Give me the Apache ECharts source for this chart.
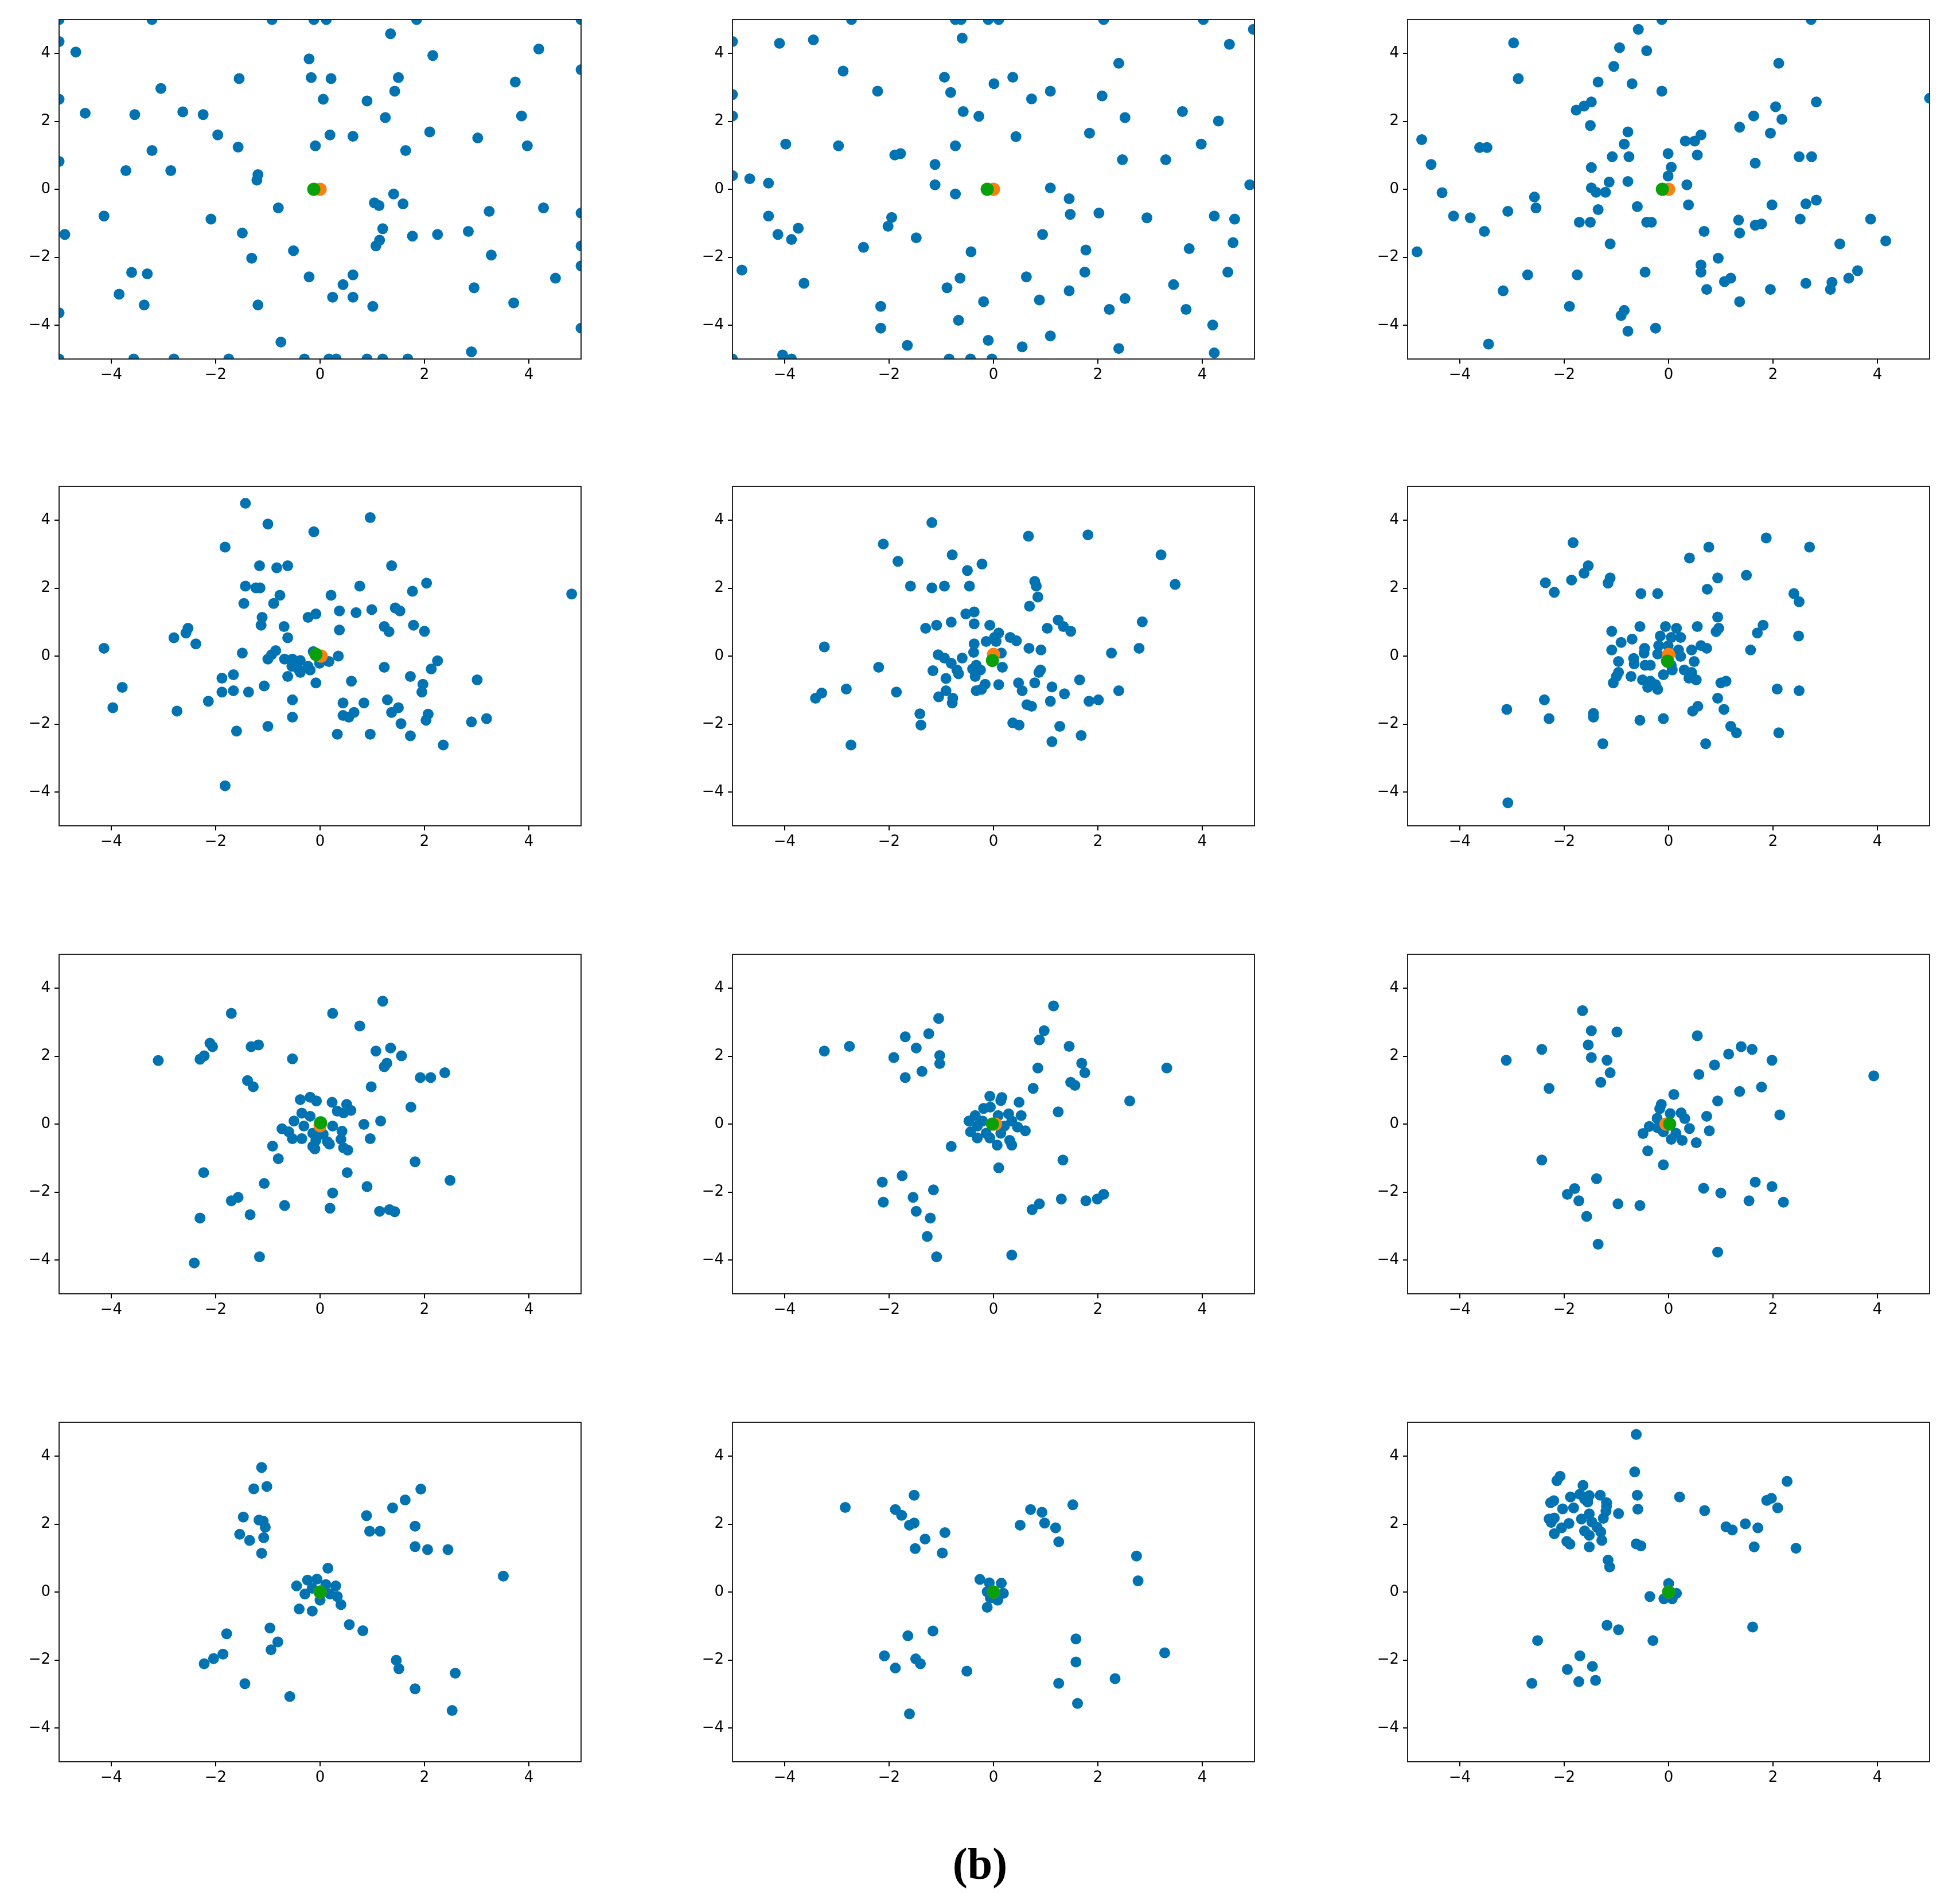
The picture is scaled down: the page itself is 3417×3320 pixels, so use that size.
<!DOCTYPE html>
<html>
<head>
<meta charset="utf-8">
<script src="https://cdn.jsdelivr.net/npm/echarts@6/dist/echarts.min.js"></script>
<style>
html, body { margin: 0; padding: 0; background: #fff; }
#main { width: 3417px; height: 3320px; }
</style>
</head>
<body>
<div id="main"></div>
<script>
// tick labels shared by every panel
var tickVals = [-4, -2, 0, 2, 4];

// blue particles, one array per panel (row by row)
var blue_r1c1 = [[-5,5],[-3.22,5],[-0.92,5],[-0.12,5],[0.12,5],[1.85,5],[5,5],
  [1.35,4.58],[-5,4.35],[-4.68,4.04],[4.19,4.13],[-0.21,3.84],[2.16,3.94],[5,3.52],
  [-1.55,3.26],[-0.17,3.29],[0.21,3.26],[1.5,3.29],[3.74,3.16],[-3.05,2.97],[1.43,2.89],
  [-5,2.65],[0.06,2.65],[0.9,2.6],[-4.5,2.24],[-3.55,2.2],[-2.63,2.28],[-2.24,2.2],[1.25,2.11],[3.86,2.16],
  [-1.96,1.6],[0.19,1.6],[0.63,1.56],[2.1,1.69],[3.02,1.51],[-1.57,1.24],[-0.09,1.28],[1.64,1.14],[-3.22,1.14],[3.97,1.28],
  [-5,0.82],[-3.72,0.55],[-2.86,0.55],[-1.19,0.43],[-1.21,0.27],
  [1.41,-0.14],[-0.8,-0.55],[1.04,-0.4],[1.13,-0.48],[1.59,-0.43],[3.24,-0.65],[4.28,-0.55],[5,-0.7],
  [-4.14,-0.79],[-2.09,-0.88],[-4.89,-1.33],[-1.49,-1.29],[1.2,-1.16],[1.77,-1.38],[2.25,-1.33],[2.84,-1.24],
  [1.14,-1.5],[1.07,-1.67],[-0.51,-1.81],[5,-1.67],[-1.31,-2.03],[3.28,-1.94],[5,-2.26],
  [-3.61,-2.45],[-3.31,-2.49],[-0.21,-2.58],[0.63,-2.52],[4.51,-2.62],[0.44,-2.81],[-3.85,-3.09],[2.95,-2.9],
  [0.24,-3.18],[0.63,-3.18],[-3.37,-3.41],[-1.19,-3.41],[1.01,-3.45],[3.71,-3.35],[-5,-3.64],[5,-4.09],
  [-0.75,-4.5],[2.9,-4.79],
  [-5,-5],[-3.57,-5],[-2.8,-5],[-1.75,-5],[-0.3,-5],[0.17,-5],[0.31,-5],[0.9,-5],[1.2,-5],[1.68,-5]];

var blue_r1c2 = [[-2.72,5],[-0.73,5],[-0.62,5],[-0.1,5],[0.1,5],[2.11,5],[4.02,5],[4.98,4.71],
  [-5,4.35],[-4.1,4.3],[-3.45,4.4],[-0.6,4.45],[4.52,4.27],[2.4,3.71],[-2.88,3.48],[-0.94,3.3],[0.37,3.3],[0.01,3.11],
  [-5,2.79],[-2.22,2.89],[-0.82,2.85],[1.09,2.89],[0.73,2.66],[2.08,2.75],[-5,2.16],[-0.58,2.29],[-0.28,2.15],[2.52,2.11],[3.62,2.29],[4.31,2.01],
  [0.43,1.55],[1.84,1.65],[-3.98,1.33],[-2.97,1.28],[-0.73,1.28],[3.98,1.33],[-1.89,1.01],[-1.78,1.05],[2.47,0.87],[3.3,0.87],[-1.12,0.73],
  [-5,0.4],[-4.67,0.31],[-4.31,0.18],[-1.12,0.13],[4.91,0.13],[1.09,0.04],[-0.73,-0.14],[1.45,-0.28],[1.47,-0.74],[2.02,-0.7],
  [-4.31,-0.79],[-1.95,-0.83],[2.94,-0.84],[4.23,-0.79],[4.62,-0.88],[-2.02,-1.09],[-3.74,-1.15],[-4.13,-1.33],[0.94,-1.33],[-3.87,-1.48],[-1.48,-1.43],[4.59,-1.57],
  [-2.49,-1.71],[1.77,-1.79],[3.75,-1.75],[-0.43,-1.84],[-4.82,-2.38],[1.75,-2.44],[4.49,-2.44],[-0.64,-2.62],[0.63,-2.58],[-3.63,-2.77],[3.45,-2.81],
  [-0.89,-2.9],[1.45,-2.99],[2.52,-3.22],[0.88,-3.26],[-0.19,-3.31],[-2.16,-3.45],[2.22,-3.54],[3.69,-3.54],[-0.67,-3.86],[4.2,-4],[-2.16,-4.09],
  [1.09,-4.32],[-0.1,-4.45],[-1.65,-4.6],[0.55,-4.64],[2.4,-4.69],[4.23,-4.82],[-4.04,-4.88],
  [-5,-5],[-3.87,-5],[-0.85,-5],[-0.44,-5],[-0.03,-5]];

var blue_r1c3 = [[-0.13,5],[2.73,5],[-0.58,4.71],[-2.97,4.31],[-0.94,4.17],[-0.42,4.08],[-1.05,3.62],[2.11,3.71],[-2.88,3.26],[-1.35,3.16],[-0.7,3.11],[-0.13,2.89],[5,2.68],
  [-1.48,2.57],[-1.62,2.45],[-1.77,2.33],[2.83,2.57],[2.05,2.43],[2.17,2.06],[1.63,2.16],[-1.5,1.88],[1.36,1.83],[-0.78,1.69],[1.95,1.65],[0.62,1.6],[0.32,1.42],[0.5,1.42],
  [-4.73,1.46],[-3.62,1.23],[-3.48,1.23],[-0.85,1.33],[-0.01,1.05],[0.55,1.01],[-1.08,0.96],[-0.76,0.96],[2.5,0.96],[2.74,0.96],[-4.55,0.73],[1.66,0.77],[-1.48,0.64],[0.05,0.65],[-0.01,0.39],
  [-1.14,0.21],[-0.78,0.23],[-1.48,0.04],[0.35,0.13],[-1.39,-0.09],[-1.21,-0.09],[-4.34,-0.1],[-2.57,-0.23],[-2.54,-0.55],[-0.6,-0.51],[0.38,-0.46],[1.98,-0.46],[2.63,-0.43],[2.83,-0.32],
  [-1.35,-0.6],[-3.08,-0.65],[-4.12,-0.79],[-3.8,-0.84],[-1.71,-0.97],[-1.5,-0.97],[-0.42,-0.97],[-0.33,-0.97],[1.34,-0.91],[2.52,-0.88],[3.87,-0.88],[1.66,-1.06],[1.78,-1.02],[0.68,-1.24],[-3.53,-1.24],[1.36,-1.29],
  [4.16,-1.52],[-1.12,-1.61],[3.28,-1.61],[-4.82,-1.84],[0.95,-2.03],[0.62,-2.23],[0.62,-2.44],[3.62,-2.4],[-2.7,-2.52],[-1.75,-2.52],[-0.45,-2.44],[1.07,-2.72],[1.19,-2.62],[2.63,-2.77],[3.45,-2.62],
  [3.13,-2.74],[3.1,-2.95],[0.73,-2.95],[1.95,-2.95],[-3.17,-2.99],[1.36,-3.31],[-1.9,-3.45],[-0.85,-3.57],[-0.91,-3.72],[-0.25,-4.09],[-0.78,-4.18],[-3.45,-4.56]];

var blue_r2c1 = [[-1.43,4.5],[0.96,4.08],[-1,3.89],[-0.12,3.66],[-1.82,3.21],[-1.16,2.66],[-0.83,2.6],[-0.62,2.66],[1.37,2.66],
  [-1.43,2.06],[-1.23,2.01],[-1.15,2.01],[0.76,2.06],[2.04,2.15],[1.77,1.91],[-0.77,1.79],[0.21,1.79],[4.82,1.83],[-1.46,1.55],[-0.89,1.55],
  [0.37,1.33],[0.69,1.28],[0.99,1.37],[1.44,1.42],[1.53,1.33],[-0.23,1.14],[-0.08,1.24],[-1.11,1.14],[-1.13,0.91],[-0.69,0.87],[1.23,0.87],[1.32,0.72],[1.79,0.91],[2,0.73],[0.37,0.77],
  [-2.53,0.82],[-2.57,0.68],[-2.8,0.54],[-0.62,0.54],[-2.38,0.36],[-4.14,0.23],[-1.49,0.09],[-0.85,0.16],[-0.93,0.04],[-1,-0.09],[-0.13,0.13],[0.35,0],
  [-0.68,-0.09],[-0.53,-0.09],[-0.38,-0.13],[-0.54,-0.3],[-0.42,-0.38],[-0.23,-0.3],[-0.19,-0.41],[-0.38,-0.48],[-0.01,-0.21],[0.17,-0.16],[1.23,-0.33],[2.25,-0.14],[2.13,-0.38],
  [-1.66,-0.55],[-1.88,-0.65],[-0.62,-0.6],[1.73,-0.6],[3.01,-0.7],[0.6,-0.74],[-0.08,-0.79],[1.97,-0.83],[-3.79,-0.92],[-1.07,-0.88],[-1.88,-1.06],[-1.66,-1.02],[-1.37,-1.06],[1.95,-1.06],
  [-2.14,-1.33],[-0.53,-1.29],[0.44,-1.38],[0.84,-1.38],[1.29,-1.29],[-3.97,-1.52],[-2.74,-1.62],[1.5,-1.52],[1.37,-1.66],[0.65,-1.66],[0.44,-1.75],[0.55,-1.8],[-0.53,-1.8],
  [2.07,-1.71],[2.03,-1.89],[1.55,-1.99],[2.9,-1.94],[3.19,-1.84],[-1,-2.07],[-1.6,-2.21],[0.33,-2.3],[0.96,-2.3],[1.73,-2.35],[2.36,-2.62],[-1.82,-3.82]];

var blue_r2c2 = [[-1.18,3.93],[0.67,3.53],[1.81,3.57],[-2.11,3.3],[-0.79,2.98],[3.21,2.98],[-1.83,2.79],[-0.22,2.71],[-0.5,2.52],
  [0.79,2.2],[0.82,2.06],[-1.59,2.06],[-1.18,2.01],[-0.94,2.06],[-0.46,2.06],[3.48,2.11],[0.85,1.74],[0.69,1.47],[-0.53,1.24],[-0.37,1.3],
  [1.24,1.06],[2.85,1.01],[1.34,0.87],[1.48,0.73],[1.03,0.82],[-0.81,1],[-0.37,0.95],[-1.09,0.91],[-1.3,0.82],[-0.07,0.91],[0.1,0.68],[0.02,0.55],[0.32,0.55],[0.44,0.45],[0.05,0.43],[-0.14,0.43],[-0.37,0.36],
  [-3.24,0.27],[0.68,0.23],[0.91,0.18],[2.79,0.23],[2.26,0.09],[-0.38,0.11],[0.15,0.09],[-1.06,0.04],[-0.94,-0.06],[-0.6,-0.06],[-0.81,-0.21],[-0.33,-0.27],[0.17,-0.33],[-2.2,-0.33],
  [-0.7,-0.41],[-0.4,-0.38],[-0.25,-0.41],[-1.16,-0.43],[0.9,-0.41],[0.87,-0.48],[-0.67,-0.52],[-0.35,-0.6],[-0.91,-0.66],[1.65,-0.7],[0.48,-0.79],[0.79,-0.79],[-0.16,-0.83],[0.1,-0.84],
  [1.12,-0.91],[-0.23,-0.98],[-0.33,-1.02],[-2.82,-0.97],[-0.91,-1.02],[0.55,-1.02],[1.36,-1.11],[2.4,-1.02],[-3.29,-1.09],[-3.41,-1.24],[-1.86,-1.06],[-1.05,-1.2],[-0.78,-1.24],[-0.79,-1.38],
  [1.09,-1.33],[1.83,-1.33],[2.01,-1.29],[0.64,-1.43],[0.73,-1.48],[-1.41,-1.7],[-1.39,-2.03],[0.37,-1.97],[0.49,-2.03],[1.27,-2.07],[1.68,-2.34],[1.12,-2.52],[-2.73,-2.62]];

var blue_r2c3 = [[-1.83,3.34],[1.87,3.48],[0.77,3.21],[2.7,3.21],[0.4,2.89],[-1.54,2.66],[-1.62,2.44],[1.49,2.38],[-1.86,2.24],[-1.12,2.3],[-1.16,2.15],[-2.36,2.16],[0.94,2.3],
  [-2.19,1.88],[-0.53,1.84],[-0.21,1.84],[0.74,1.97],[2.4,1.84],[2.5,1.6],[0.94,1.15],[-0.55,0.87],[-0.06,0.87],[0.15,0.82],[0.55,0.87],[0.96,0.82],[0.91,0.72],[1.81,0.91],[1.7,0.68],
  [-1.09,0.73],[2.49,0.59],[-0.16,0.59],[0.05,0.55],[0.23,0.55],[-0.7,0.5],[-0.91,0.4],[-0.19,0.31],[-0.01,0.3],[-0.46,0.23],[-1.09,0.18],[0.19,0.18],[0.44,0.18],[0.62,0.31],[0.73,0.23],[1.57,0.18],
  [-0.47,0.09],[-0.21,0.06],[0.23,-0.01],[-0.67,-0.07],[-0.96,-0.16],[0.49,-0.16],[-0.66,-0.23],[-0.35,-0.27],[0.05,-0.27],[-0.45,-0.27],[0.3,-0.41],[0.07,-0.41],[0.44,-0.48],[-0.96,-0.48],
  [-1,-0.6],[-0.72,-0.6],[-0.1,-0.55],[0.39,-0.65],[0.53,-0.7],[-0.5,-0.7],[-0.35,-0.74],[-1.06,-0.79],[-0.25,-0.84],[1,-0.79],[1.1,-0.74],[-0.4,-0.92],[-0.21,-0.98],[2.08,-0.97],[2.5,-1.02],
  [-2.38,-1.29],[0.94,-1.24],[-3.1,-1.57],[1.06,-1.57],[0.56,-1.48],[0.46,-1.62],[-1.44,-1.69],[-1.44,-1.8],[-2.29,-1.84],[-0.55,-1.89],[-0.1,-1.84],[1.19,-2.07],[1.3,-2.26],[2.11,-2.26],
  [-1.26,-2.58],[0.71,-2.58],[-3.08,-4.32]];

var blue_r3c1 = [[1.2,3.62],[-1.7,3.26],[0.24,3.26],[0.76,2.89],[-2.11,2.38],[-2.06,2.28],[-1.32,2.28],[-1.18,2.33],[1.35,2.24],[1.07,2.15],[1.56,2.01],[-2.22,2.01],[-2.3,1.91],[-3.1,1.87],[-0.53,1.92],
  [1.28,1.79],[1.23,1.69],[2.39,1.51],[1.92,1.37],[2.12,1.37],[-1.39,1.28],[-1.28,1.1],[0.98,1.1],[1.74,0.5],[-0.38,0.72],[-0.19,0.79],[-0.07,0.68],[0.23,0.64],[0.51,0.58],[0.59,0.4],[0.33,0.38],[0.45,0.33],
  [-0.35,0.32],[-0.19,0.23],[1.16,0.09],[-0.5,0.09],[0.84,-0.01],[-0.31,-0.06],[0.24,-0.06],[-0.73,-0.14],[-0.6,-0.23],[0.42,-0.21],[-0.14,-0.27],[0.06,-0.3],[-0.53,-0.43],[-0.35,-0.43],[0.4,-0.45],[0.96,-0.43],
  [-0.08,-0.48],[0.14,-0.52],[-0.14,-0.66],[0.18,-0.59],[0.45,-0.7],[0.53,-0.77],[-0.91,-0.65],[-0.1,-0.73],[-0.8,-1.02],[1.82,-1.11],[-2.23,-1.43],[0.52,-1.43],[2.49,-1.66],[-1.07,-1.75],[0.9,-1.84],
  [0.24,-2.03],[-1.57,-2.16],[-1.7,-2.26],[-0.68,-2.4],[0.19,-2.48],[1.14,-2.57],[1.33,-2.52],[1.43,-2.58],[-1.34,-2.67],[-2.3,-2.77],[-1.16,-3.91],[-2.41,-4.09]];

var blue_r3c2 = [[1.15,3.48],[-1.05,3.11],[0.97,2.75],[-1.24,2.66],[-1.69,2.57],[0.88,2.48],[-2.76,2.29],[-3.24,2.15],[-1.48,2.24],[1.45,2.29],[-1.91,1.96],[-1.03,2.02],[-1.03,1.78],
  [1.69,1.79],[1.75,1.51],[0.85,1.65],[3.32,1.65],[-1.37,1.55],[-1.69,1.37],[1.48,1.23],[1.56,1.14],[0.76,1.05],[2.61,0.68],[-0.07,0.82],[0.16,0.78],[0.14,0.69],[0.49,0.64],[1.24,0.36],
  [-0.19,0.46],[-0.06,0.5],[0.29,0.3],[0.53,0.25],[-0.35,0.25],[0.09,0.25],[-0.47,0.09],[-0.21,0.09],[0.35,0.09],[-0.31,-0.06],[0.21,-0.06],[0.46,-0.09],[0.61,-0.2],[-0.44,-0.23],[-0.14,-0.27],[0.14,-0.27],
  [-0.31,-0.41],[-0.07,-0.41],[0.31,-0.48],[0.07,-0.62],[0.35,-0.62],[-0.81,-0.66],[1.33,-1.06],[0.1,-1.29],[-1.75,-1.52],[-2.13,-1.71],[-1.15,-1.94],[-1.54,-2.16],[2.11,-2.07],[1.99,-2.21],[1.3,-2.21],[1.77,-2.26],
  [-2.11,-2.3],[0.88,-2.35],[0.74,-2.52],[-1.48,-2.57],[-1.21,-2.77],[-1.27,-3.31],[-1.09,-3.91],[0.35,-3.86]];

var blue_r3c3 = [[-1.65,3.34],[-1.48,2.75],[-0.99,2.71],[0.55,2.6],[-1.54,2.33],[1.39,2.28],[1.6,2.2],[-2.43,2.2],[1.15,2.06],[-1.48,1.96],[-1.18,1.88],[-3.11,1.88],[1.98,1.88],[0.88,1.74],
  [-1.12,1.51],[0.58,1.46],[3.93,1.42],[-1.3,1.23],[-2.29,1.05],[1.78,1.09],[1.36,0.96],[0.1,0.87],[0.94,0.68],[-0.14,0.58],[-0.17,0.45],[0.24,0.33],[0.03,0.31],[2.13,0.27],[0.73,0.23],[-0.22,0.17],[0.31,0.16],
  [-0.37,-0.07],[-0.21,-0.11],[0.4,-0.13],[0.78,-0.2],[-0.49,-0.28],[-0.1,-0.23],[0.14,-0.27],[0.05,-0.45],[0.26,-0.48],[0.53,-0.55],[-0.4,-0.79],[-2.43,-1.06],[-0.1,-1.2],[-1.38,-1.61],[1.66,-1.71],
  [-1.8,-1.9],[-1.94,-2.07],[0.67,-1.89],[1.98,-1.84],[1,-2.03],[-1.72,-2.26],[1.54,-2.26],[2.2,-2.3],[-0.97,-2.35],[-0.55,-2.4],[-1.57,-2.72],[-1.35,-3.54],[0.94,-3.77]];

var blue_r4c1 = [[-1.12,3.67],[-1.02,3.11],[-1.27,3.04],[1.93,3.03],[1.63,2.71],[1.39,2.48],[0.89,2.25],[-1.47,2.21],[-1.17,2.12],[-1.09,2.09],[-1.05,1.91],[1.82,1.94],[-1.54,1.7],[0.95,1.79],[1.15,1.79],
  [-1.35,1.52],[-1.08,1.6],[1.82,1.34],[2.06,1.25],[2.45,1.25],[-1.12,1.14],[0.15,0.7],[3.51,0.47],[-0.24,0.35],[-0.06,0.38],[-0.45,0.18],[0.11,0.22],[0.3,0.18],[-0.15,0.11],[-0.29,-0.06],[0.19,-0.06],
  [0.33,-0.13],[0,-0.24],[0.4,-0.37],[-0.4,-0.5],[-0.15,-0.56],[0.56,-0.96],[0.82,-1.14],[-0.96,-1.06],[-1.79,-1.23],[-0.81,-1.47],[-0.94,-1.7],[-1.86,-1.83],[-2.04,-1.96],[-2.22,-2.11],
  [1.46,-2.01],[1.51,-2.26],[2.59,-2.39],[-1.44,-2.7],[1.82,-2.85],[-0.58,-3.08],[2.53,-3.49]];

var blue_r4c2 = [[-1.52,2.85],[-2.84,2.49],[-1.88,2.43],[-1.76,2.26],[-1.61,1.97],[-1.52,2.03],[-0.93,1.75],[-1.31,1.56],[-1.5,1.28],[-0.98,1.15],
  [1.52,2.57],[0.71,2.43],[0.93,2.35],[0.51,1.97],[0.98,2.03],[1.19,1.89],[1.25,1.48],[2.74,1.06],[2.77,0.33],
  [-0.26,0.37],[-0.08,0.27],[0.15,0.26],[-0.12,0.01],[0.19,-0.04],[0.08,-0.24],[-0.06,-0.18],[-0.12,-0.45],
  [-1.16,-1.15],[-1.64,-1.29],[1.58,-1.38],[3.28,-1.79],[-2.09,-1.88],[-1.49,-1.97],[-1.4,-2.11],[-1.88,-2.24],[1.58,-2.06],[-0.51,-2.33],[2.33,-2.55],[1.25,-2.69],[1.61,-3.28],[-1.61,-3.59]];

var blue_r4c3 = [[-0.62,4.64],[-0.65,3.54],[-2.08,3.41],[-2.14,3.28],[2.27,3.26],[-1.64,3.14],[-0.6,2.85],[0.21,2.8],[-1.88,2.8],[-1.7,2.88],[-1.52,2.84],[-1.31,2.85],
  [-2.2,2.69],[-2.26,2.63],[-1.61,2.74],[-1.55,2.65],[-1.19,2.63],[1.88,2.7],[1.97,2.76],[-2.03,2.45],[-1.82,2.48],[-1.19,2.52],[-0.59,2.44],[2.09,2.48],[-1.2,2.38],[0.69,2.4],
  [-0.96,2.31],[-1.52,2.3],[-1.67,2.15],[-1.25,2.17],[-2.29,2.15],[-2.19,2.18],[-2.25,2.05],[-1.91,2.02],[-1.47,2.06],[-1.37,1.91],[-2.05,1.89],[1.1,1.92],[1.22,1.83],[1.47,2.01],[1.71,1.89],
  [-1.61,1.8],[-1.3,1.77],[-2.19,1.72],[-1.52,1.67],[-1.28,1.52],[-1.95,1.49],[-1.89,1.41],[-1.52,1.33],[-0.62,1.42],[-0.53,1.36],[1.64,1.33],[2.44,1.29],[-1.16,0.94],[-1.13,0.74],
  [0,0.25],[-0.36,-0.13],[0.15,-0.04],[-0.09,-0.2],[0.07,-0.2],[-1.18,-0.98],[-0.96,-1.11],[1.61,-1.03],[-2.51,-1.43],[-0.3,-1.43],[-1.7,-1.88],[-1.94,-2.28],[-1.46,-2.19],[-1.72,-2.64],[-1.4,-2.6],[-2.62,-2.69]];

// orange and green centre markers, one per panel
var orangeCentres = [[0,0],[0,0],[0,0],[0.02,0],[0,0.05],[0,0.05],[0,-0.05],[0.04,0],[-0.05,0],[0,0],[0,0],[0,0]];
var greenCentres = [[-0.12,0],[-0.12,0],[-0.12,0],[-0.08,0.05],[-0.02,-0.13],[-0.02,-0.15],[0.01,0.04],[-0.02,0],[0.02,0],[0,0],[0,0],[0,0]];

var panels = [blue_r1c1, blue_r1c2, blue_r1c3, blue_r2c1, blue_r2c2, blue_r2c3,
  blue_r3c1, blue_r3c2, blue_r3c3, blue_r4c1, blue_r4c2, blue_r4c3];

var colLeft = [103, 1277, 2454];
var rowTop = [34, 848, 1664, 2480];
var plotW = 910, plotH = 592;

function fmt(v) {
  return v < 0 ? '\u2212' + (-v) : String(v);
}

function makeAxis(i) {
  return {
    type: 'value',
    gridIndex: i,
    min: -5,
    max: 5,
    z: 10,
    axisLine: { show: false, onZero: false },
    splitLine: { show: false },
    axisTick: {
      show: true, inside: false, length: 8,
      customValues: tickVals,
      lineStyle: { color: '#000', width: 2 }
    },
    axisLabel: {
      show: true,
      customValues: tickVals,
      formatter: fmt,
      margin: 15,
      color: '#000',
      fontFamily: 'DejaVu Sans',
      fontSize: 26
    }
  };
}

var grids = [], xAxes = [], yAxes = [], series = [], masks = [];
panels.forEach(function (pts, i) {
  var L = colLeft[i % 3], T = rowTop[Math.floor(i / 3)], m = 13;
  grids.push({
    left: L, top: T, width: plotW, height: plotH, z: 11,
    show: true, borderColor: '#222', borderWidth: 2, backgroundColor: 'transparent'
  });
  // white strips around each frame so edge markers look clipped
  [[L - m, T - m, plotW + 2 * m, m], [L - m, T + plotH, plotW + 2 * m, m],
   [L - m, T, m, plotH], [L + plotW, T, m, plotH]].forEach(function (r) {
    masks.push({ type: 'rect', silent: true, z: 5,
      shape: { x: r[0], y: r[1], width: r[2], height: r[3] },
      style: { fill: '#fff' } });
  });
  xAxes.push(makeAxis(i));
  yAxes.push(makeAxis(i));
  series.push({
    type: 'scatter', xAxisIndex: i, yAxisIndex: i, z: 2,
    data: pts, symbolSize: 19,
    itemStyle: { color: '#0173b2', opacity: 1 }
  });
  series.push({
    type: 'scatter', xAxisIndex: i, yAxisIndex: i, z: 3,
    data: [orangeCentres[i]], symbolSize: 23,
    itemStyle: { color: '#ff7f0e', opacity: 1 }
  });
  series.push({
    type: 'scatter', xAxisIndex: i, yAxisIndex: i, z: 4,
    data: [greenCentres[i]], symbolSize: 23,
    itemStyle: { color: '#0aa00a', opacity: 1 }
  });
});

var chart = echarts.init(document.getElementById('main'));
chart.setOption({
  animation: false,
  backgroundColor: '#fff',
  title: {
    text: '{p|(}{b|b}{p|)}',
    left: 'center',
    top: 3212,
    textStyle: {
      rich: {
        p: { fontFamily: 'Liberation Serif', fontSize: 78, color: '#000' },
        b: { fontFamily: 'Liberation Serif', fontSize: 78, fontWeight: 'bold', color: '#000' }
      }
    }
  },
  graphic: { elements: masks },
  grid: grids,
  xAxis: xAxes,
  yAxis: yAxes,
  series: series
});
</script>
</body>
</html>
